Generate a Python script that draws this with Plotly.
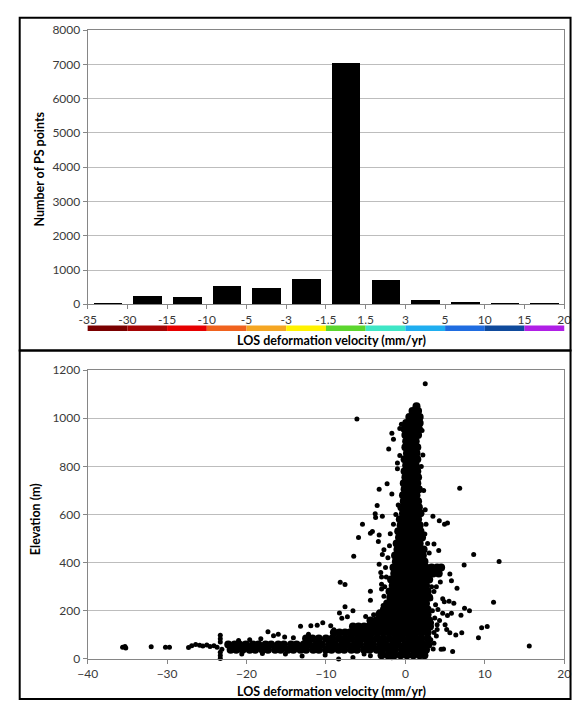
import plotly.graph_objects as go

# ---------------- Histogram data ----------------
bin_edge_labels = ['-35', '-30', '-15', '-10', '-5', '-3', '-1.5', '1.5', '3', '5', '10', '15', '20']
ps_counts = [45, 250, 210, 515, 478, 735, 7050, 706, 125, 50, 45, 30]
band_colors = ['#7A0000', '#A50505', '#E60000', '#F0621E', '#F5A623', '#FFF200',
               '#5CD62E', '#3FE6C6', '#1FAEF0', '#1F6CE0', '#0F4A9C', '#B01FE6']

# ---------------- Scatter data (dense cloud rows) ----------------
dense_elev = [1050, 1030, 1005, 980, 955, 930, 905, 880, 855, 830, 805, 780, 755, 730, 705, 680,
              655, 630, 605, 580, 555, 530, 505, 480, 455, 430, 405, 380, 355, 330, 305, 280,
              255, 230, 205, 185, 160, 135, 110, 85, 60, 38, 15]
dense_vel = [
    [1.4],
    [0.9, 1.6],
    [0.5, 1.1, 1.8],
    [0.1, 0.7, 1.3, 1.8],
    [-0.1, 0.5, 1.1, 1.7],
    [0.0, 0.6, 1.2, 1.6],
    [0.1, 0.7, 1.3],
    [0.0, 0.6, 1.2, 1.5],
    [0.2, 0.8, 1.4],
    [-0.1, 0.5, 1.1, 1.5],
    [0.1, 0.7, 1.3],
    [-0.1, 0.4, 1.0, 1.5],
    [0.0, 0.6, 1.2, 1.6],
    [-0.2, 0.3, 0.9, 1.5],
    [-0.1, 0.5, 1.1, 1.7],
    [-0.3, 0.2, 0.8, 1.4],
    [-0.2, 0.4, 1.0, 1.6],
    [-0.5, 0.0, 0.6, 1.2, 1.7],
    [-0.3, 0.2, 0.8, 1.4, 1.9],
    [-0.7, -0.2, 0.4, 1.0, 1.6],
    [-0.6, 0.0, 0.6, 1.2, 1.8],
    [-0.9, -0.4, 0.2, 0.8, 1.4, 1.9],
    [-0.8, -0.2, 0.4, 1.0, 1.6, 2.1],
    [-1.1, -0.6, 0.0, 0.6, 1.2, 1.8],
    [-1.0, -0.4, 0.2, 0.8, 1.4, 2.0, 2.3],
    [-1.3, -0.8, -0.2, 0.4, 1.0, 1.6, 2.2],
    [-1.2, -0.6, 0.0, 0.6, 1.2, 1.8, 2.4],
    [-1.5, -1.0, -0.4, 0.2, 0.8, 1.4, 2.0, 2.6, 3.3, 4.0, 4.5],
    [-1.4, -0.8, -0.2, 0.4, 1.0, 1.6, 2.2, 2.8, 3.5, 4.2],
    [-1.8, -1.2, -0.6, 0.0, 0.6, 1.2, 1.8, 2.4, 3.0],
    [-1.6, -1.0, -0.4, 0.2, 0.8, 1.4, 2.0, 2.6],
    [-2.0, -1.4, -0.8, -0.2, 0.4, 1.0, 1.6, 2.2, 2.8],
    [-1.9, -1.2, -0.6, 0.0, 0.6, 1.2, 1.8, 2.4, 3.0],
    [-2.3, -1.6, -1.0, -0.4, 0.2, 0.8, 1.4, 2.0, 2.6],
    [-2.7, -2.0, -1.4, -0.8, -0.2, 0.4, 1.0, 1.6, 2.2, 2.8],
    [-3.3, -2.6, -2.0, -1.4, -0.8, -0.2, 0.4, 1.0, 1.6, 2.2, 2.8],
    [-4.4, -3.7, -3.0, -2.4, -1.8, -1.2, -0.6, 0.0, 0.6, 1.2, 1.8, 2.4, 3.0],
    [-6.6, -5.9, -5.2, -4.6, -4.0, -3.4, -2.8, -2.2, -1.6, -1.0, -0.4, 0.2, 0.8, 1.4, 2.0, 2.6, 3.1],
    [-9.0, -8.3, -7.6, -7.0, -6.3, -5.6, -4.9, -4.2, -3.5, -2.8, -2.1, -1.4, -0.7, 0.0, 0.7, 1.4,
     2.1, 2.8],
    [-12.5, -11.7, -10.9, -10.0, -9.2, -8.4, -7.6, -6.8, -6.0, -5.2, -4.4, -3.6, -2.8, -2.0, -1.2,
     -0.4, 0.4, 1.2, 2.0, 2.8],
    [-22.3, -21.5, -20.9, -20.1, -19.2, -18.5, -17.6, -16.9, -16.0, -15.3, -14.4, -13.7, -12.8,
     -12.1, -11.2, -10.5, -9.6, -8.9, -8.0, -7.3, -6.4, -5.7, -4.8, -4.1, -3.2, -2.5, -1.6,
     -0.9, 0.0, 0.7, 1.5, 2.2, 2.9],
    [-22.0, -21.3, -20.5, -19.6, -18.9, -18.0, -17.3, -16.4, -15.7, -14.8, -14.1, -13.2, -12.5,
     -11.6, -10.9, -10.0, -9.3, -8.4, -7.7, -6.8, -6.1, -5.2, -4.5, -3.6, -2.9, -2.0, -1.3,
     -0.4, 0.3, 1.1, 1.8, 2.6],
    [-3.0, -2.2, -1.4, -0.6, 0.2, 1.0, 1.8, 2.4],
]

# ---------------- Scatter data (sparse points) ----------------
sparse_vel = [
    -35.6, -35.3, -35.2, -32.0, -30.2, -29.7, -27.3, -26.9, -26.4, -25.9, -25.5, -25.0, -24.6, -24.1, -23.7,
    -23.3, -23.3, -23.3, -23.3, -23.3, -23.3, -23.1,
    -21.0, -19.6, -18.2, -17.3, -16.6, -16.0, -15.2, -14.1, -13.2, -12.2, -11.9, -11.1, -10.4, -9.4, -9.0,
    -20.6, -18.0, -15.1, -13.0, -10.1, -8.4, -6.6,
    -8.2, -7.6, -7.6, -8.3, -7.3, -6.6, -8.0, -6.1,
    -1.7, -1.5, -2.1, -0.7, -0.5, -1.0, -1.0, -0.7,
    -2.3, -3.3, -1.7, -3.55, -3.8, -2.9, -3.75, -5.4, -5.9, -4.4, -4.15, -3.3, -3.4, -2.7, -2.9, -6.5,
    -3.3, -2.5, -3.1, -3.0, -3.0, -4.4, -4.4, -3.0, -2.7, -2.8, -5.0, -4.0, -3.3, -5.2, -4.4, -1.7,
    -0.9, -1.2, -1.5, -1.9, -2.0, -2.2, -2.4, -2.6,
    2.5, 2.1, 2.2, 2.0, 2.3, 2.5, 2.6, 2.8, 3.0,
    6.84, 3.47, 4.27, 4.93, 5.3, 8.6, 11.8, 7.4, 3.6, 4.2, 2.45, 5.6, 5.8, 6.5, 11.1, 7.45, 8.07, 7.0,
    4.9, 5.5, 6.1, 4.7, 4.7, 5.3, 5.8, 10.3, 9.6, 9.2, 7.1, 6.35, 5.6, 15.6, 5.95, 4.8, 4.5, 3.5,
    4.0, 5.0, 5.2, 4.0,
    3.3, 3.6, 3.2, 3.8, 3.4, 3.7, 3.3, 3.6, 3.2, 3.6, 3.9, 4.3, 4.1, 3.9, 4.4,
]
sparse_elev = [
    48, 51, 45, 50, 48, 48, 47, 55, 60, 57, 54, 58, 52, 55, 48,
    98, 84, 70, 28, 14, 2, 40,
    76, 80, 84, 113, 96, 102, 91, 88, 136, 102, 138, 140, 150, 138, 121,
    20, 22, 20, 12, 16, 0, 6,
    319, 309, 217, 191, 175, 200, 169, 997,
    938, 913, 872, 958, 975, 814, 790, 845,
    728, 705, 685, 637, 603, 593, 588, 560, 504, 522, 529, 515, 488, 454, 434, 427,
    393, 380, 359, 340, 310, 281, 244, 290, 260, 222, 176, 183, 196, 20, 13, 5,
    640, 600, 560, 520, 470, 420, 340, 300,
    1143, 949, 847, 800, 700, 620, 560, 480, 440,
    709, 593, 574, 560, 565, 434, 405, 390, 477, 450, 519, 353, 325, 294, 235, 210, 200, 181,
    237, 240, 231, 250, 190, 180, 190, 135, 129, 88, 109, 99, 109, 54, 31, 41, 40, 41,
    142, 142, 122, 122,
    300, 280, 250, 225, 200, 170, 150, 110, 80, 65, 95, 160, 205, 300, 320,
]

W, H = 579, 707
FONT = 'Lato'
TICK_COLOR = '#3a3a3a'
AX_COLOR = '#868686'
GRID_COLOR = '#BDBDBD'


def px_x(p):
    return p / W


def px_y(p):
    return 1 - p / H


dense_x, dense_y = [], []
for e, row in zip(dense_elev, dense_vel):
    for v in row:
        dense_x.append(v)
        dense_y.append(e)

fig = go.Figure()

# Histogram bars (bins drawn at category index positions)
bin_centers = [i + 0.5 for i in range(len(ps_counts))]
fig.add_trace(go.Bar(x=bin_centers, y=ps_counts, width=0.72, marker=dict(color='black', line=dict(width=0)),
                     xaxis='x', yaxis='y', hoverinfo='skip'))

# Scatter
fig.add_trace(go.Scatter(x=dense_x, y=dense_y, mode='markers', xaxis='x2', yaxis='y2',
                         marker=dict(color='black', size=8, line=dict(width=0)), cliponaxis=False,
                         hoverinfo='skip'))
fig.add_trace(go.Scatter(x=sparse_vel, y=sparse_elev, mode='markers', xaxis='x2', yaxis='y2',
                         marker=dict(color='black', size=5, line=dict(width=0)), cliponaxis=False,
                         hoverinfo='skip'))

axis_common = dict(showline=True, linecolor=AX_COLOR, linewidth=1, mirror=True, ticks='outside',
                   ticklen=4, tickcolor=AX_COLOR, tickfont=dict(family=FONT, size=12, color=TICK_COLOR),
                   zeroline=False)

fig.update_layout(
    width=W, height=H, autosize=False,
    margin=dict(l=0, r=0, t=0, b=0),
    paper_bgcolor='white', plot_bgcolor='white',
    showlegend=False, bargap=0,
    xaxis=dict(domain=[px_x(80), px_x(571)], anchor='y', range=[0, 12],
               tickmode='array', tickvals=list(range(len(bin_edge_labels))), ticktext=bin_edge_labels,
               showgrid=False, **axis_common),
    yaxis=dict(domain=[px_y(302.7), px_y(22.7)], anchor='x', range=[0, 8000], dtick=1000,
               showgrid=True, gridcolor=GRID_COLOR, gridwidth=1, **axis_common),
    xaxis2=dict(domain=[px_x(80), px_x(571)], anchor='y2', range=[-40, 20], dtick=10,
                showgrid=False, **axis_common),
    yaxis2=dict(domain=[px_y(665), px_y(370)], anchor='x2', range=[0, 1200], dtick=200,
                showgrid=True, gridcolor=GRID_COLOR, gridwidth=1, **axis_common),
)

# Colour legend strip under the histogram
for i, c in enumerate(band_colors):
    x0 = i if i > 0 else -0.07
    x1 = i + 1 if i < len(band_colors) - 1 else len(band_colors) + 0.08
    fig.add_shape(type='rect', xref='x', yref='paper', x0=x0, x1=x1,
                  y0=px_y(330), y1=px_y(324.5), fillcolor=c, line=dict(width=0), layer='above')

# Panel frames
fig.add_shape(type='rect', xref='paper', yref='paper', x0=px_x(10), x1=px_x(577.5),
              y0=px_y(350), y1=px_y(10), line=dict(color='black', width=2))
fig.add_shape(type='rect', xref='paper', yref='paper', x0=px_x(10), x1=px_x(577.5),
              y0=px_y(706), y1=px_y(350), line=dict(color='black', width=2))

title_font = dict(family=FONT, size=12.5, color='black')
fig.add_annotation(text='<b>LOS deformation velocity (mm/yr)</b>', xref='paper', yref='paper',
                   x=px_x(331), y=px_y(340), showarrow=False, font=title_font,
                   xanchor='center', yanchor='middle')
fig.add_annotation(text='<b>LOS deformation velocity (mm/yr)</b>', xref='paper', yref='paper',
                   x=px_x(331), y=px_y(698), showarrow=False, font=title_font,
                   xanchor='center', yanchor='middle')
fig.add_annotation(text='<b>Number of PS points</b>', xref='paper', yref='paper',
                   x=px_x(30), y=px_y(165), showarrow=False, font=title_font, textangle=-90,
                   xanchor='center', yanchor='middle')
fig.add_annotation(text='<b>Elevation (m)</b>', xref='paper', yref='paper',
                   x=px_x(27), y=px_y(522), showarrow=False, font=title_font, textangle=-90,
                   xanchor='center', yanchor='middle')

page_fix = (
    "document.documentElement.style.margin='0';"
    "document.documentElement.style.padding='0';"
    "document.documentElement.style.overflow='hidden';"
    "document.body.style.margin='0';"
    "document.body.style.padding='0';"
    "document.body.style.overflow='hidden';"
    "var gd=document.getElementById('{plot_id}');"
    "gd.style.position='absolute';gd.style.left='0px';gd.style.top='0px';"
)

fig.write_html('out.html', config={'displayModeBar': False}, post_script=page_fix)
